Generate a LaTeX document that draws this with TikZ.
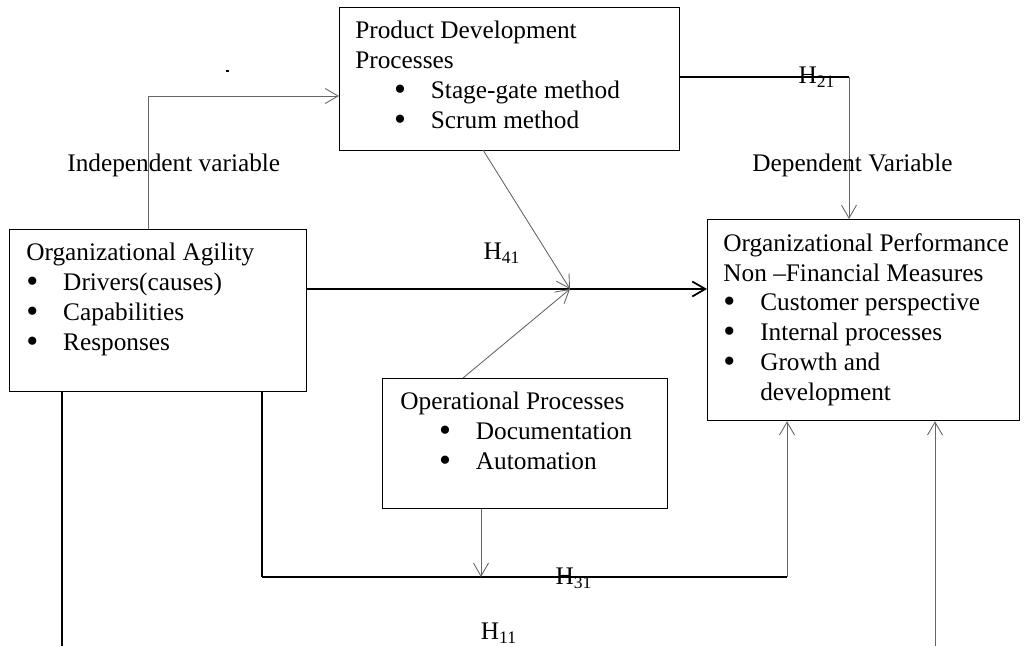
\documentclass[tikz,border=0pt]{standalone}
\usepackage{fontspec}
\usepackage{graphicx}
\setmainfont{Liberation Serif}
\usetikzlibrary{arrows.meta,positioning,calc}

\newcommand{\bdot}{\raisebox{-0.9pt}{\scalebox{1.35}{\textbullet}}}
\newcommand{\bitem}[1]{\makebox[21pt][l]{\bdot}#1}
\newcommand{\bitemin}[1]{\hspace*{22pt}\makebox[21pt][l]{\bdot}#1}

\begin{document}
\begin{tikzpicture}[
    x=0.02cm, y=-0.02cm,
    box/.style={draw, line width=0.7pt, anchor=north west, inner sep=0pt},
    txt/.style={anchor=north west, inner sep=0pt, align=left, font=\fontsize{14.4}{17}\selectfont},
    lbl/.style={inner sep=0pt, font=\fontsize{14.4}{17}\selectfont},
    arr/.style={-{Straight Barb[length=2.6mm, width=3mm]}},
    thin/.style={line width=0.5pt, black!60},
    bold/.style={line width=1pt, black},
]
  \useasboundingbox (0,0) rectangle (1024,646);

  % boxes
  \node[box, minimum width=6.8cm, minimum height=2.86cm] (pdp) at (339,7) {};
  \node[box, minimum width=5.94cm, minimum height=3.24cm] (oa) at (9,229) {};
  \node[box, minimum width=6.24cm, minimum height=4.02cm] (op) at (707,219) {};
  \node[box, minimum width=5.7cm, minimum height=2.6cm] (opp) at (382,378) {};

  \node[txt] (pdptxt) at ($(pdp.north west)+(16,14)$) {Product Development\\Processes\\
    \bitemin{Stage-gate method}\\\bitemin{Scrum method}};
  \node[txt] (oatxt) at ($(oa.north west)+(17,14)$) {Organizational Agility\\
    \bitem{Drivers(causes)}\\\bitem{Capabilities}\\\bitem{Responses}};
  \node[txt] (optxt) at ($(op.north west)+(16,14)$) {Organizational Performance\\
    Non --Financial Measures\\\bitem{Customer perspective}\\\bitem{Internal processes}\\
    \bitem{Growth and}\\\hspace*{21pt}development};
  \node[txt] (opptxt) at ($(opp.north west)+(18,14)$) {Operational Processes\\
    \bitemin{Documentation}\\\bitemin{Automation}};

  % meeting point and corners
  \coordinate (meet) at (570,289);
  \coordinate (c1) at (148,96);
  \coordinate (c2) at (849,77);
  \coordinate (c3) at (262,577);
  \coordinate (c4) at (787,577);
  \coordinate (b1) at (62,646);
  \coordinate (b2) at (935,646);

  % connectors
  \draw[arr, thin] (oa.north -| c1) -- (c1) -- (pdp.west |- c1);
  \draw[bold] (pdp.east |- c2) -- (c2);
  \draw[arr, thin] (c2) -- (op.north -| c2);
  \draw[arr, bold] (oa.east |- meet) -- (op.west |- meet);
  \draw[arr, thin] (483,150) -- (meet);
  \draw[arr, thin] (463,378) -- (meet);
  \draw[line width=0.6pt] (oa.south -| c3) -- (c3);
  \draw[bold] (c3) -- (c4);
  \draw[arr, thin] (c4) -- (op.south -| c4);
  \draw[arr, thin] (opp.south -| 481,0) -- (481,577);
  \draw[line width=0.6pt] (oa.south -| b1) -- (b1);
  \draw[arr, thin] (b2) -- (op.south -| b2);

  % stray mark
  \fill (226,70) rectangle (229,71.5);

  % labels
  \node[lbl, anchor=west] (indep) at (67,165) {Independent variable};
  \node[lbl, anchor=west] (dep) at (752,165) {Dependent Variable};
  \node[lbl] (h21) at (817,77) {H\textsubscript{21}};
  \node[lbl] (h41) at (502,253) {H\textsubscript{41}};
  \node[lbl] (h31) at (574,578) {H\textsubscript{31}};
  \node[lbl] (h11) at (499,633) {H\textsubscript{11}};
\end{tikzpicture}
\end{document}
